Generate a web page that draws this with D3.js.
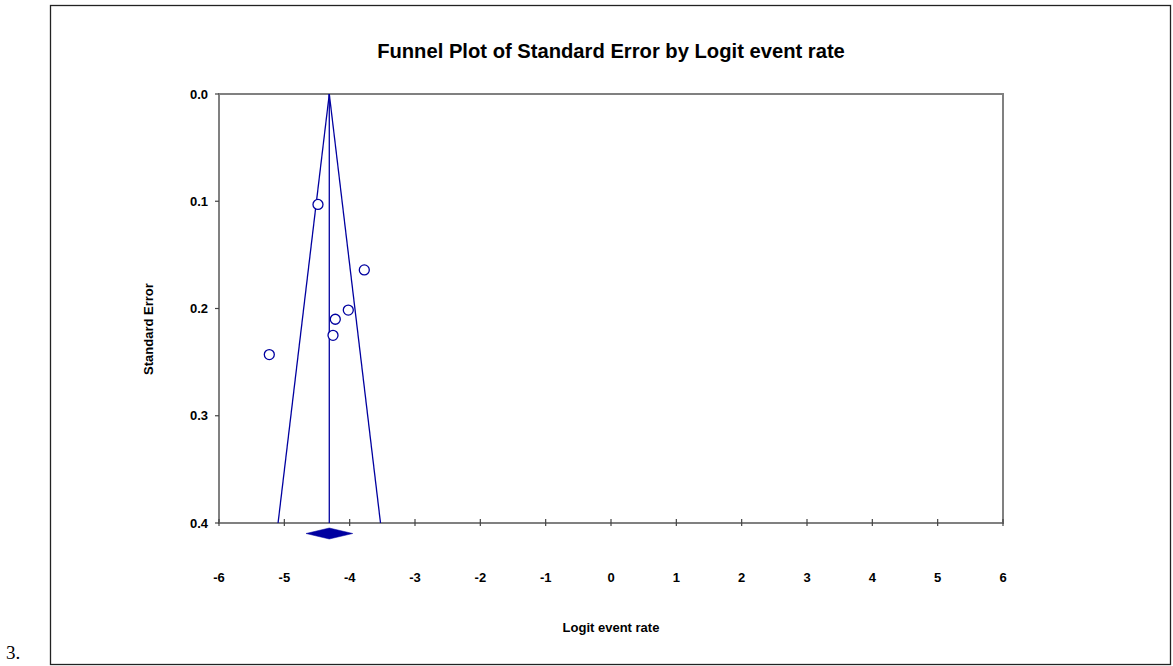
<!DOCTYPE html>
<html>
<head>
<meta charset="utf-8">
<script src="https://cdn.jsdelivr.net/npm/d3@7"></script>
<style>
  html, body { margin: 0; padding: 0; background: #fff; }
  svg { display: block; }
</style>
</head>
<body>
<script>
// ---- Data ----
const studyLogit = [-4.485, -3.776, -4.021, -4.220, -4.255, -5.230];
const studySE    = [0.103, 0.164, 0.2015, 0.210, 0.225, 0.243];
const pooledMean = -4.312;
const pooledCI   = [-4.668, -3.953];
const xTicks = [-6, -5, -4, -3, -2, -1, 0, 1, 2, 3, 4, 5, 6];
const yTicks = [0.0, 0.1, 0.2, 0.3, 0.4];
const seMax = 0.4;
const zCrit = 1.96;

const W = 1173, H = 666;
const plot = { left: 219, top: 94, right: 1003, bottom: 523 };
const blue = "#0000a0";
const axisGray = "#808080";
const font = "'Liberation Sans', Arial, Helvetica, sans-serif";

const svg = d3.select("body").append("svg").attr("width", W).attr("height", H);

const x = d3.scaleLinear().domain([-6, 6]).range([plot.left, plot.right]);
const y = d3.scaleLinear().domain([0, seMax]).range([plot.top, plot.bottom]);

// outer frame
svg.append("rect").attr("x", 50.5).attr("y", 5.5).attr("width", 1120).attr("height", 659)
  .attr("fill", "none").attr("stroke", "#222").attr("stroke-width", 1.3);

// "3." label
svg.append("text").attr("x", 6).attr("y", 659).text("3.")
  .attr("font-family", "'Liberation Serif', 'Times New Roman', serif").attr("font-size", 19).attr("fill", "#000");

// title
svg.append("text").attr("x", 611).attr("y", 58).attr("text-anchor", "middle")
  .attr("font-family", font).attr("font-weight", "bold").attr("font-size", 20.2)
  .text("Funnel Plot of Standard Error by Logit event rate");

// plot frame (gray)
svg.append("rect").attr("x", plot.left).attr("y", plot.top)
  .attr("width", plot.right - plot.left).attr("height", plot.bottom - plot.top)
  .attr("fill", "none").attr("stroke", axisGray).attr("stroke-width", 2);

// x axis ticks (crossing the axis)
const xAxis = svg.append("g");
xAxis.selectAll("line").data(xTicks).join("line")
  .attr("x1", d => x(d)).attr("x2", d => x(d))
  .attr("y1", plot.bottom - 4).attr("y2", plot.bottom + 3)
  .attr("stroke", "#444").attr("stroke-width", 1.2);
xAxis.selectAll("text").data(xTicks).join("text")
  .attr("x", d => x(d)).attr("y", 582).attr("text-anchor", "middle")
  .attr("font-family", font).attr("font-weight", "bold").attr("font-size", 13)
  .text(d => d3.format("d")(d).replace("−", "-"));

// y axis ticks
const yAxis = svg.append("g");
yAxis.selectAll("line").data(yTicks).join("line")
  .attr("x1", plot.left - 4).attr("x2", plot.left)
  .attr("y1", d => y(d)).attr("y2", d => y(d))
  .attr("stroke", "#444").attr("stroke-width", 1.2);
yAxis.selectAll("text").data(yTicks).join("text")
  .attr("x", 208).attr("y", d => y(d) + 4.5).attr("text-anchor", "end")
  .attr("font-family", font).attr("font-weight", "bold").attr("font-size", 13)
  .text(d => d3.format(".1f")(d));

// axis titles
svg.append("text").attr("x", 611).attr("y", 632).attr("text-anchor", "middle")
  .attr("font-family", font).attr("font-weight", "bold").attr("font-size", 13)
  .text("Logit event rate");
svg.append("text").attr("transform", `translate(153,329) rotate(-90)`).attr("text-anchor", "middle")
  .attr("font-family", font).attr("font-weight", "bold").attr("font-size", 13)
  .text("Standard Error");

// funnel lines
const funnel = [
  [[pooledMean, 0], [pooledMean - zCrit * seMax, seMax]],
  [[pooledMean, 0], [pooledMean + zCrit * seMax, seMax]],
  [[pooledMean, 0], [pooledMean, seMax]]
];
const line = d3.line().x(d => x(d[0])).y(d => y(d[1]));
svg.append("g").selectAll("path").data(funnel).join("path")
  .attr("d", line).attr("fill", "none").attr("stroke", blue).attr("stroke-width", 1.3);

// study points
svg.append("g").selectAll("circle").data(studyLogit.map((v, i) => [v, studySE[i]])).join("circle")
  .attr("cx", d => x(d[0])).attr("cy", d => y(d[1])).attr("r", 5)
  .attr("fill", "#fff").attr("stroke", blue).attr("stroke-width", 1.3);

// pooled diamond
const dy = plot.bottom + 10.5;
const diamond = [[pooledCI[0], 0], [pooledMean, -5.5], [pooledCI[1], 0], [pooledMean, 5.5]];
svg.append("path")
  .attr("d", "M" + diamond.map(d => [x(d[0]), dy + d[1]].join(",")).join("L") + "Z")
  .attr("fill", blue).attr("stroke", blue).attr("stroke-width", 0.5);
</script>
</body>
</html>
